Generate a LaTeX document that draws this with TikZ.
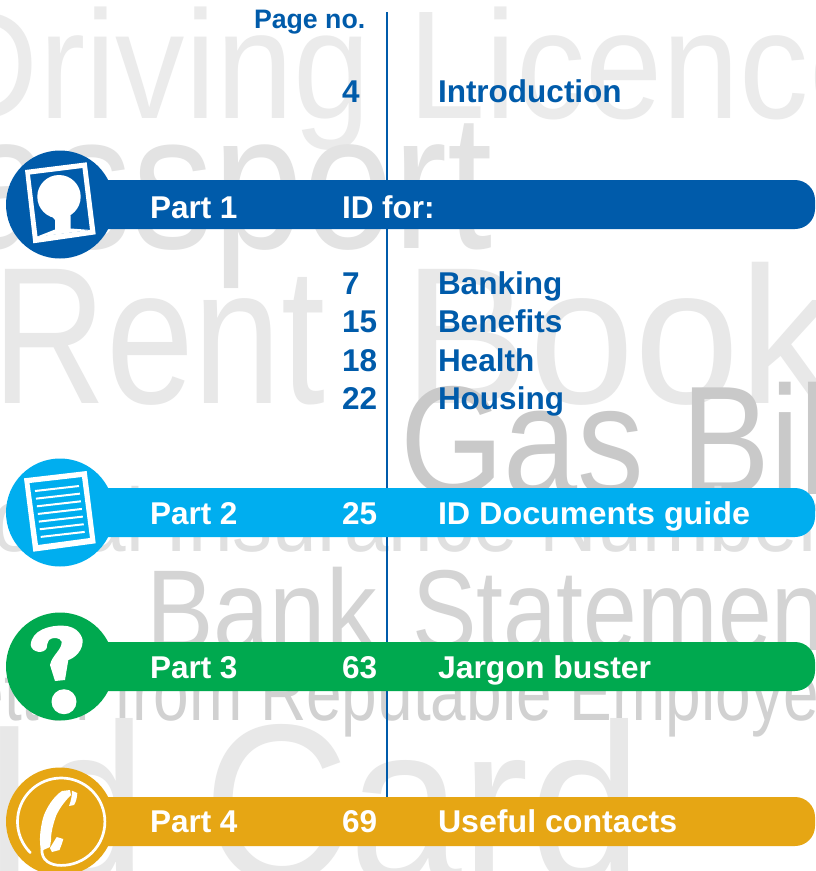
\documentclass[tikz,border=0pt]{standalone}
\usepackage{fontspec}
\setmainfont{Liberation Sans}
\newfontfamily\bgfont{Liberation Sans}
\definecolor{cblue}{HTML}{005BAA}
\definecolor{ccyan}{HTML}{00AEEF}
\definecolor{cgreen}{HTML}{00A94F}
\definecolor{cgold}{HTML}{E6A614}
\tikzset{
 lbl/.style={anchor=base west,inner sep=0pt,outer sep=0pt,font=\fontsize{31.5}{33}\selectfont\bfseries},
 bluetxt/.style={lbl,text=cblue},
 whitetxt/.style={lbl,text=white},
 bgword/.style={anchor=base west,inner sep=0pt,outer sep=0pt},
 icon/.style={fill=white,draw=none}
}
\newcommand{\partbar}[3]{% top y, colour, name
  \fill[#2,rounded corners=20pt] (60,#1) -- (815,#1) -- (815,#1+49) -- (60,#1+49) -- cycle;
  \node[circle,fill=#2,minimum size=108pt,inner sep=0pt] (#3) at (60,#1+24.5) {};
}
\begin{document}
\begin{tikzpicture}[x=1pt,y=-1pt]
\useasboundingbox (0,0) rectangle (815,871);
\fill[white] (0,0) rectangle (815,871);
\begin{scope}
\clip (0,0) rectangle (815,871);
\node[bgword,text=black!8,xscale=.9] (w1) at (-61,118) {\bgfont\fontsize{154}{160}\selectfont Driving Licence};
\node[bgword,text=black!11,xscale=.84] (w2) at (-147,248) {\bgfont\fontsize{193}{200}\selectfont Passport};
\node[bgword,text=black!9,xscale=.81] (w3a) at (-8,403) {\bgfont\fontsize{195}{200}\selectfont Rent};
\node[bgword,text=black!9,xscale=.97] (w3b) at (403,403) {\bgfont\fontsize{195}{200}\selectfont Book};
\node[bgword,text=black!21,xscale=.86] (w4) at (400,494) {\bgfont\fontsize{155}{160}\selectfont Gas Bill};
\node[bgword,text=black!12,xscale=.89] (w5) at (-150,551) {\bgfont\fontsize{90}{95}\selectfont National Insurance Number};
\node[bgword,text=black!17,xscale=.88] (w6a) at (146,650) {\bgfont\fontsize{115}{120}\selectfont Bank};
\node[bgword,text=black!17,xscale=.84] (w6b) at (412,650) {\bgfont\fontsize{115}{120}\selectfont Statement};
\node[bgword,text=black!18,xscale=.8] (w7) at (-67,720) {\bgfont\fontsize{80}{85}\selectfont Letter from Reputable Employer};
\node[bgword,text=black!9,xscale=.87] (w8a) at (-17,881) {\bgfont\fontsize{225}{230}\selectfont Id};
\node[bgword,text=black!9,xscale=.9] (w8b) at (203,881) {\bgfont\fontsize{225}{230}\selectfont Card};
\end{scope}
\coordinate (ruletop) at (387,12);
\coordinate (rulebot) at (387,800);
\draw[cblue,line width=2pt] (ruletop) -- (rulebot);
\partbar{180}{cblue}{c1}
\partbar{488}{ccyan}{c2}
\partbar{642}{cgreen}{c3}
\partbar{797}{cgold}{c4}
% icon 1: portrait
\fill[icon,even odd rule] (25,170) -- (86.7,162.3) -- (95.7,234.3) -- (33.3,243.3) -- cycle
  (30,174.5) -- (82.5,168) -- (90,230) -- (37.5,236.5) -- cycle;
\fill[icon] (59,196.7) circle (21.7);
\fill[icon] (50,214) -- (55,220) -- (55,229.5) -- (36,237) -- (91,230) -- (70.7,228.5) -- (70.7,217) -- (70,212) -- cycle;
% icon 2: document
\fill[icon,even odd rule] (24,478.3) -- (86.7,471) -- (95.7,543.3) -- (33.3,551.7) -- cycle
  (29.5,483) -- (82,477) -- (90,538) -- (38,545) -- cycle;
\foreach \k in {0,...,6}{
  \draw[white,line width=2pt] ({35+\k*0.95},{491+\k*7.65}) -- ({79+\k*0.95},{486+\k*7.65});
}
% icon 3: question mark
\fill[icon] (30.7,645) .. controls (31.5,630) and (50,625) .. (63,625.7)
  .. controls (78,626) and (83,637) .. (82.7,641.7)
  .. controls (82,655) and (69,660) .. (68.3,660)
  -- (65,680) -- (55,681) -- (50,665)
  .. controls (52,655) and (62,650) .. (61.7,641.7)
  .. controls (60,637) and (52,637) .. (49,640)
  .. controls (47,644) and (46.7,646) .. (46.7,648)
  .. controls (44,654) and (32,653) .. (30.7,645) -- cycle;
\fill[icon] (64,701.7) circle (12.5);
% icon 4: telephone
\draw[white,line width=2.7pt,line cap=round] (61.2,821.7) ++(135:43.7) arc[start angle=135,end angle=450,radius=43.7]
  .. controls (50,865.4) and (41,860) .. (42,849);
\fill[icon] (62,791) -- (70,790) -- (71,795)
  .. controls (66,800) and (60,807) .. (56,816)
  .. controls (53,825) and (51,832) .. (51,840)
  -- (50,847) -- (41,851)
  .. controls (39,840) and (40,830) .. (43,818)
  .. controls (46,808) and (54,796) .. (62,791) -- cycle;
\fill[icon] (72,790.7) -- (77.3,793) .. controls (77,798) and (76,802) .. (74,805) -- (69,806) .. controls (71,801) and (72,796) .. (72,790.7) -- cycle;
\fill[icon] (56.7,837) -- (63.3,839) .. controls (62,844) and (61,846) .. (59.5,850) -- (52,852) -- (50,848) -- cycle;
% text
\node[bluetxt,font=\fontsize{26.7}{28}\selectfont\bfseries] (pageno) at (254,28) {Page no.};
\node[bluetxt] (n0) at (342,102) {4};
\node[bluetxt] (t0) at (438,102) {Introduction};
\node[whitetxt] (p1) at (150,218) {Part 1};
\node[whitetxt] (t1) at (342,218) {ID for:};
\node[bluetxt] (n2) at (342,294) {7};
\node[bluetxt] (t2) at (438,294) {Banking};
\node[bluetxt] (n3) at (342,332) {15};
\node[bluetxt] (t3) at (438,332) {Benefits};
\node[bluetxt] (n4) at (342,371) {18};
\node[bluetxt] (t4) at (438,371) {Health};
\node[bluetxt] (n5) at (342,409) {22};
\node[bluetxt] (t5) at (438,409) {Housing};
\node[whitetxt] (p2) at (150,524) {Part 2};
\node[whitetxt] (n6) at (342,524) {25};
\node[whitetxt,xscale=1.025] (t6) at (438,524) {ID Documents guide};
\node[whitetxt] (p3) at (150,678) {Part 3};
\node[whitetxt] (n7) at (342,678) {63};
\node[whitetxt,xscale=1.015] (t7) at (438,678) {Jargon buster};
\node[whitetxt] (p4) at (150,832) {Part 4};
\node[whitetxt] (n8) at (342,832) {69};
\node[whitetxt,xscale=1.02] (t8) at (438,832) {Useful contacts};
\end{tikzpicture}
\end{document}
